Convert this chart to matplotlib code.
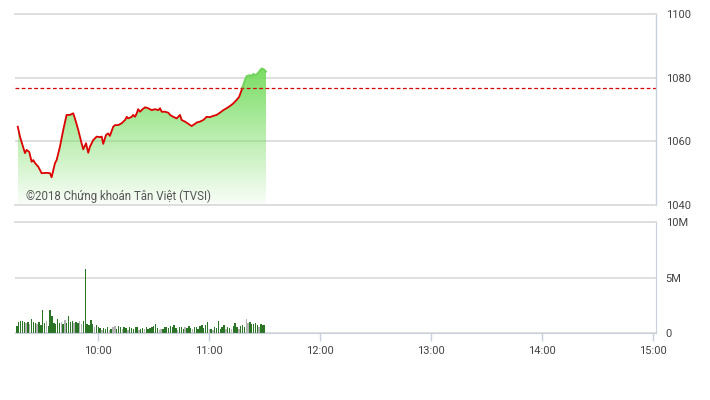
import numpy as np
import matplotlib
matplotlib.use("Agg")
import matplotlib.pyplot as plt
from matplotlib.patches import Polygon

plt.rcParams["font.family"] = ["Roboto", "DejaVu Sans"]

# intraday index, time in minutes after 9:00
price_min = [16.5, 17.7, 20.4, 21.3, 22.7, 24.0, 24.9, 25.8, 27.6, 29.4,
             32.1, 33.9, 34.8, 36.6, 37.5, 39.3, 41.1, 42.9, 44.7, 46.5,
             47.4, 49.2, 50.1, 51.0, 51.9, 53.4, 54.6, 55.5, 57.3, 59.2,
             60.9, 61.9, 62.7, 64.2, 65.4, 66.3, 68.1, 69.1, 70.8, 72.7,
             74.5, 75.4, 76.2, 78.1, 78.9, 79.9, 80.8, 81.6, 82.6, 84.0,
             85.3, 87.0, 88.9, 90.7, 92.5, 93.4, 94.3, 96.1, 97.9, 98.8,
             100.6, 102.4, 104.2, 105.1, 106.9, 108.7, 110.5, 112.3, 113.2, 115.0,
             116.8, 118.6, 120.4, 122.2, 124.0, 125.8, 127.6, 129.4, 131.2, 133.0,
             134.8, 136.2, 137.5, 138.4, 139.3, 140.2, 142.0, 142.9, 143.8, 145.3,
             146.5, 148.3, 149.6, 150.7]
price_val = [1064.6, 1061.5, 1056.3, 1057.3, 1056.7, 1053.6, 1054.1, 1053.2, 1052.0, 1050.0,
             1050.1, 1050.0, 1048.7, 1053.1, 1054.1, 1058.3, 1063.6, 1068.3, 1068.3, 1068.8,
             1067.2, 1063.6, 1061.5, 1059.4, 1057.5, 1059.4, 1056.4, 1058.3, 1060.4, 1061.5,
             1061.3, 1061.5, 1059.2, 1062.0, 1062.5, 1061.7, 1064.6, 1065.1, 1065.1, 1065.7,
             1066.7, 1067.7, 1067.2, 1067.7, 1068.3, 1067.7, 1068.8, 1070.1, 1069.3, 1070.1,
             1070.7, 1070.4, 1069.8, 1070.1, 1069.8, 1070.4, 1069.3, 1069.3, 1069.0, 1068.3,
             1067.7, 1067.2, 1068.3, 1066.7, 1066.2, 1065.5, 1064.8, 1065.5, 1065.9, 1066.2,
             1066.7, 1067.7, 1067.6, 1068.0, 1068.3, 1069.0, 1069.8, 1070.4, 1071.1, 1071.9,
             1073.0, 1074.0, 1076.1, 1077.7, 1079.3, 1080.5, 1080.8, 1080.5, 1081.2, 1080.8,
             1081.6, 1082.9, 1082.6, 1081.9]
ref_level = 1076.9

# volume per minute (millions) from 9:16, g = up, s = down/unchanged
vol_start = 16
vol_m = [0.6, 1.0, 1.1, 1.1, 1.0, 0.9, 0.95, 0.85, 1.3, 1.0,
         0.9, 0.85, 1.0, 0.75, 2.1, 0.9, 1.1, 0.6, 2.1, 1.5,
         0.9, 0.8, 1.3, 0.9, 1.0, 0.8, 1.2, 0.9, 1.5, 1.0,
         1.05, 0.9, 1.0, 0.9, 1.1, 0.8, 1.1, 5.8, 0.8, 0.7,
         1.2, 0.8, 0.5, 0.7,
         0.5, 0.45, 0.3, 0.45, 0.4, 0.5, 0.3, 0.35, 0.5, 0.65,
         0.4, 0.6, 0.5, 0.35, 0.55, 0.45, 0.3, 0.5, 0.45, 0.4,
         0.5, 0.55, 0.3, 0.4, 0.45, 0.35, 0.5, 0.4, 0.45, 0.5,
         0.6, 0.85, 0.45, 0.3, 0.35, 0.4, 0.5, 0.55, 0.45, 0.6,
         0.5, 0.75, 0.45, 0.3, 0.5, 0.55, 0.4, 0.55, 0.45, 0.6,
         0.45, 0.35, 0.5, 0.55, 0.4, 0.6, 0.7, 0.45, 0.75, 0.95,
         0.4, 0.35, 0.3, 0.5, 0.45, 1.1, 0.4, 0.55, 0.7, 0.4,
         0.5, 0.45, 0.35, 0.6, 0.9, 0.5, 0.4, 0.6, 0.75, 0.5,
         1.3, 0.9, 0.95, 0.85, 0.8, 0.9, 0.7, 0.5, 0.8, 0.75, 0.7]
vol_dir = ("gggggsgsgg" "gsggggsggg" "ggggsgsggg" "gsggssgggg" "ggsg"
           "ggsgggsgss" "gggsggsggg" "ggsggsgggg" "gggssggggg" "gggsgggsgg" "gsgggggggg"
           "sgsggggggs" "ggsgggsggg" "ssgggggsgg" "g")

hour_min = [60, 120, 180, 240, 300, 360]
hour_labels = ["10:00", "11:00", "12:00", "13:00", "14:00", "15:00"]
price_ticks = [1040, 1060, 1080, 1100]
vol_ticks = [0, 5, 10]
vol_labels = ["0", "5M", "10M"]

x_lo, x_hi = 15, 361.5
grid_c = "#dcdcdc"
edge_c = "#c9d0dd"
text_c = "#444444"

fig = plt.figure(figsize=(7.1, 4.0), dpi=100)
ax = fig.add_axes([0.0211, 0.4875, 0.9028, 0.4775])
axv = fig.add_axes([0.0211, 0.1675, 0.9028, 0.2775])

t = np.array(price_min)
p = np.array(price_val)

# gradient area under the index line
verts = [(t[0], 1040)] + list(zip(t, p)) + [(t[-1], 1040)]
poly = Polygon(verts, closed=True, facecolor="none", edgecolor="none")
ax.add_patch(poly)
img = np.zeros((256, 1, 4))
img[..., 0] = 0.45
img[..., 1] = 0.86
img[..., 2] = 0.36
img[..., 3] = np.linspace(0.04, 0.95, 256).reshape(-1, 1)
im = ax.imshow(img, extent=[t[0], t[-1], 1040, p.max()], origin="lower",
               aspect="auto", zorder=1, interpolation="bilinear")
im.set_clip_path(poly)

# split line at the reference level: red below, green above
tt, pp = [t[0]], [p[0]]
for i in range(1, len(t)):
    a, b = p[i - 1] - ref_level, p[i] - ref_level
    if a * b < 0:
        f = a / (a - b)
        tt.append(t[i - 1] + f * (t[i] - t[i - 1]))
        pp.append(ref_level)
    tt.append(t[i])
    pp.append(p[i])
tt, pp = np.array(tt), np.array(pp)
ax.plot(tt, np.where(pp <= ref_level + 1e-9, pp, np.nan), color="#dc0000", lw=1.3, zorder=3)
ax.plot(tt, np.where(pp >= ref_level - 1e-9, pp, np.nan), color="#6fd35a", lw=1.3, zorder=3)

ax.axhline(ref_level, color="#d40000", lw=0.9, ls=(0, (3, 2)), zorder=2)

ax.text(20.9, 1042.8, "©2018 Chứng khoán Tân Việt (TVSI)", color="#555555",
        fontsize=8.3, va="center", ha="left", zorder=4)

ax.set_xlim(x_lo, x_hi)
ax.set_ylim(1040, 1100)
ax.set_yticks(price_ticks)
ax.set_xticks([])
ax.yaxis.tick_right()
ax.tick_params(axis="y", length=0, pad=7, labelsize=8, labelcolor=text_c)
ax.grid(axis="y", color=grid_c, lw=1.3)
ax.set_axisbelow(True)
ax.spines["left"].set_visible(False)
for s in ["top", "bottom"]:
    ax.spines[s].set_color(grid_c)
    ax.spines[s].set_linewidth(1.3)
ax.spines["right"].set_color(edge_c)
ax.spines["right"].set_linewidth(1.0)

# volume
vt = vol_start + np.arange(len(vol_m))
vcol = ["#2b7626" if d == "g" else "#b3b3b3" for d in vol_dir]
axv.bar(vt, vol_m, width=0.75, color=vcol, linewidth=0, zorder=2)

axv.set_xlim(x_lo, x_hi)
axv.set_ylim(0, 10)
axv.set_yticks(vol_ticks)
axv.set_yticklabels(vol_labels)
axv.yaxis.tick_right()
axv.tick_params(axis="y", length=0, pad=7, labelsize=8, labelcolor=text_c)
axv.set_xticks(hour_min)
axv.set_xticklabels(hour_labels)
axv.tick_params(axis="x", length=6, width=1, color=edge_c, pad=3,
                labelsize=8, labelcolor=text_c)
axv.grid(axis="y", color=grid_c, lw=1.3)
axv.set_axisbelow(True)
axv.spines["left"].set_visible(False)
axv.spines["top"].set_color(grid_c)
axv.spines["top"].set_linewidth(1.3)
axv.spines["bottom"].set_color(edge_c)
axv.spines["right"].set_color(edge_c)

fig.savefig("out.png", dpi=100)
